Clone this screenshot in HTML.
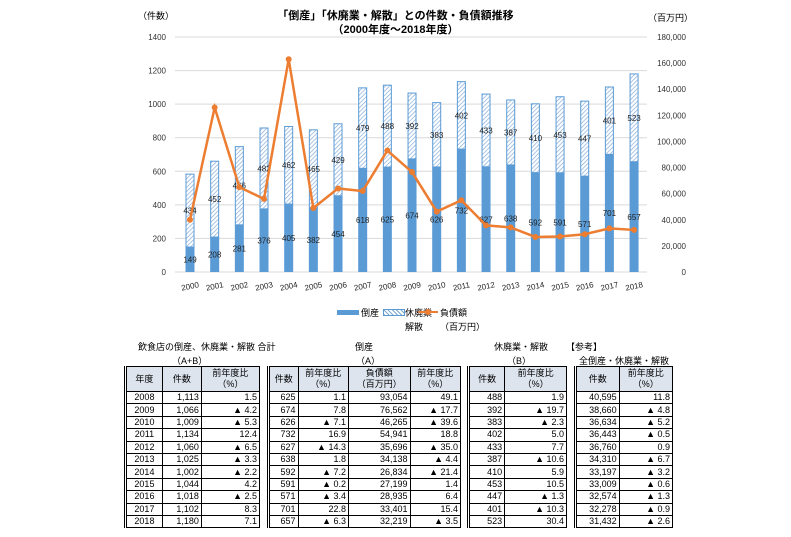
<!DOCTYPE html>
<html><head><meta charset="utf-8">
<style>
body{margin:0;width:791px;height:537px;background:#fff;position:relative;overflow:hidden;font-family:"Liberation Sans","Noto Sans CJK JP",sans-serif;color:#000}
.t{position:absolute;font-size:9px;white-space:nowrap}
table{position:absolute;border-collapse:collapse;font-size:9px;border-left:3px double #000;}
td,th{border:1px solid #000;padding:0 2px;height:11.4px;line-height:11px;text-align:right}
th{background:#dde4ee;font-weight:normal;text-align:center;height:24px;line-height:11px}
</style></head><body>
<svg id="chart" width="791" height="340" style="position:absolute;left:0;top:0" font-family="Liberation Sans, Noto Sans CJK JP, sans-serif">
<defs><pattern id="hatch" patternUnits="userSpaceOnUse" width="3" height="3" patternTransform="rotate(45)"><rect width="3" height="3" fill="#fff"/><line x1="0" y1="0" x2="0" y2="3" stroke="#7ba7d9" stroke-width="1.3"/></pattern></defs>
</svg>
<div class="t" style="left:0;width:791px;text-align:center;top:9px;font-weight:bold;font-size:11px;line-height:14px">「倒産」「休廃業・解散」との件数・負債額推移<br>（2000年度～2018年度）</div>
<div class="t" style="left:138px;top:9px">（件数）</div>
<div class="t" style="left:648px;top:11px">（百万円）</div>
<div>
<div style="position:absolute;left:337px;top:310px;width:22px;height:5px;background:#5b9bd5"></div>
<div class="t" style="left:361px;top:306px">倒産</div>
<div style="position:absolute;left:383px;top:309px;width:20px;height:5px;border:1px solid #5b9bd5;background:url() ;background-image:repeating-linear-gradient(45deg,#7ba7d9 0 1px,#fff 1px 3px)"></div>
<div class="t" style="left:405px;top:306px;line-height:14px">休廃業<br>解散</div>
<div style="position:absolute;left:418px;top:311px;width:20px;height:2px;background:#ed7d31"></div>
<div style="position:absolute;left:425px;top:309px;width:6px;height:6px;border-radius:3px;background:#ed7d31"></div>
<div class="t" style="left:440px;top:306px;line-height:14px">負債額<br>（百万円）</div>
</div>
<div class="t" style="left:138px;top:340px">飲食店の倒産、休廃業・解散 合計</div>
<div class="t" style="left:172px;top:354px">（A+B）</div>
<div class="t" style="left:355px;top:340px">倒産</div>
<div class="t" style="left:356px;top:354px">（A）</div>
<div class="t" style="left:494px;top:340px">休廃業・解散</div>
<div class="t" style="left:507px;top:354px">（B）</div>
<div class="t" style="left:566px;top:340px">【参考】</div>
<div class="t" style="left:579px;top:354px">全倒産・休廃業・解散</div>
<table id="t1" style="left:124px;top:366px;width:136px"><tr><th>年度</th><th>件数</th><th>前年度比<br>（%）</th></tr></table>
<table id="t2" style="left:267px;top:366px;width:194px"><tr><th>件数</th><th>前年度比<br>（%）</th><th>負債額<br>（百万円）</th><th>前年度比<br>（%）</th></tr></table>
<table id="t3" style="left:467px;top:366px;width:100px"><tr><th>件数</th><th>前年度比<br>（%）</th></tr></table>
<table id="t4" style="left:574px;top:366px;width:99px"><tr><th>件数</th><th>前年度比<br>（%）</th></tr></table>
<script>
const years=[2000,2001,2002,2003,2004,2005,2006,2007,2008,2009,2010,2011,2012,2013,2014,2015,2016,2017,2018];
const bankrupt=[149,208,281,376,405,382,454,618,625,674,626,732,627,638,592,591,571,701,657];
const closure=[434,452,466,482,462,465,429,479,488,392,383,402,433,387,410,453,447,401,523];
const debt=[40000,126000,65000,56000,163000,49000,64000,62000,93054,76562,46265,54941,35696,34138,26834,27199,28935,33401,32219];
const leftTicks=[0,200,400,600,800,1000,1200,1400];
const rightTicks=[0,20000,40000,60000,80000,100000,120000,140000,160000,180000];
const tYears=[2008,2009,2010,2011,2012,2013,2014,2015,2016,2017,2018];
const tTotal=["1,113","1,066","1,009","1,134","1,060","1,025","1,002","1,044","1,018","1,102","1,180"];
const tTotalPct=["1.5","▲ 4.2","▲ 5.3","12.4","▲ 6.5","▲ 3.3","▲ 2.2","4.2","▲ 2.5","8.3","7.1"];
const tBk=["625","674","626","732","627","638","592","591","571","701","657"];
const tBkPct=["1.1","7.8","▲ 7.1","16.9","▲ 14.3","1.8","▲ 7.2","▲ 0.2","▲ 3.4","22.8","▲ 6.3"];
const tDebt=["93,054","76,562","46,265","54,941","35,696","34,138","26,834","27,199","28,935","33,401","32,219"];
const tDebtPct=["49.1","▲ 17.7","▲ 39.6","18.8","▲ 35.0","▲ 4.4","▲ 21.4","1.4","6.4","15.4","▲ 3.5"];
const tCl=["488","392","383","402","433","387","410","453","447","401","523"];
const tClPct=["1.9","▲ 19.7","▲ 2.3","5.0","7.7","▲ 10.6","5.9","10.5","▲ 1.3","▲ 10.3","30.4"];
const tAll=["40,595","38,660","36,634","36,443","36,760","34,310","33,197","33,009","32,574","32,278","31,432"];
const tAllPct=["11.8","▲ 4.8","▲ 5.2","▲ 0.5","0.9","▲ 6.7","▲ 3.2","▲ 0.6","▲ 1.3","▲ 0.9","▲ 2.6"];
const NS="http://www.w3.org/2000/svg",svg=document.getElementById('chart');
const x=i=>190+i*24.67, yL=v=>272-v*(235/1400), yR=v=>272-v*(235/180000);
function mk(tag,at,txt){const e=document.createElementNS(NS,tag);for(const k in at)e.setAttribute(k,at[k]);if(txt!==undefined)e.textContent=txt;svg.appendChild(e);return e;}
leftTicks.forEach(v=>{const g=mk('line',{x1:175,x2:647,y1:yL(v),y2:yL(v),stroke:'#d9d9d9','stroke-width':1});


const t=mk('text',{x:166,y:yL(v)+3,'font-size':8,'text-anchor':'end',fill:'#333'},v);

});
rightTicks.forEach(v=>{const t=mk('text',{x:686,y:yR(v)+3,'font-size':8,'text-anchor':'end',fill:'#333'},v.toLocaleString('en-US'));

});
years.forEach((yr,i)=>{const b=bankrupt[i],c=closure[i],cx=x(i);
const r1=mk('rect',{x:cx-4.5,y:yL(b),width:9,height:yL(0)-yL(b),fill:'#5b9bd5'});


const r2=mk('rect',{x:cx-4,y:yL(b+c),width:8,height:yL(b)-yL(b+c),fill:'url(#hatch)',stroke:'#5b9bd5','stroke-width':1});


const l1=mk('text',{x:cx,y:yL(b/2)+3,'font-size':8,'text-anchor':'middle',fill:'#222'},b);


const l2=mk('text',{x:cx,y:yL(b+c/2)+3,'font-size':8,'text-anchor':'middle',fill:'#222'},c);


const yl=mk('text',{x:cx,y:289,'font-size':8,'text-anchor':'middle',fill:'#222',transform:`rotate(-12 ${cx} 286)`},yr);

});
const pl=mk('polyline',{points:debt.map((d,i)=>x(i)+','+yR(d)).join(' '),fill:'none',stroke:'#ed7d31','stroke-width':2.5});


debt.forEach((d,i)=>{const c=mk('circle',{cx:x(i),cy:yR(d),r:3,fill:'#ed7d31'});

});
function fill(id,cols){const t=document.getElementById(id);for(let r=0;r<11;r++){const tr=document.createElement('tr');


cols.forEach(a=>{const td=document.createElement('td');td.textContent=a[r];tr.appendChild(td);});t.appendChild(tr);}}
fill('t1',[tYears,tTotal,tTotalPct]);fill('t2',[tBk,tBkPct,tDebt,tDebtPct]);fill('t3',[tCl,tClPct]);fill('t4',[tAll,tAllPct]);
document.querySelectorAll('#t1 tr td:first-child').forEach(td=>td.style.textAlign='center');
</script>
</body></html>
